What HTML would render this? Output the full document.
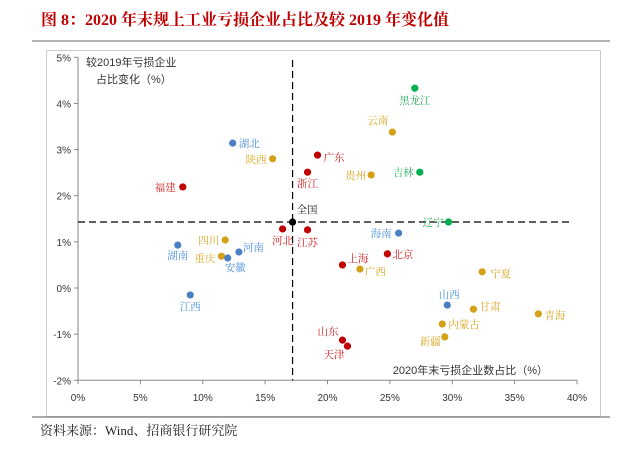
<!DOCTYPE html>
<html><head><meta charset="utf-8"><style>
body{margin:0;width:622px;height:451px;background:#fff;overflow:hidden;font-family:"Liberation Sans","Noto Sans CJK SC",sans-serif}
#title{position:absolute;left:41px;top:7px;font:bold 16px "Liberation Serif","Noto Serif CJK SC",serif;color:#c00000;white-space:nowrap}
#src{position:absolute;left:40px;top:420px;font:13px "Liberation Serif","Noto Serif CJK SC",serif;color:#222;white-space:nowrap}
svg{position:absolute;left:0;top:0}
</style></head><body>
<div id="title">图 8：2020 年末规上工业亏损企业占比及较 2019 年变化值</div>
<div id="src">资料来源：Wind、招商银行研究院</div>
<svg id="chart" width="622" height="451"></svg>
<script>
const names=["全国","湖北","陕西","福建","广东","浙江","黑龙江","云南","贵州","吉林","辽宁","海南","河北","江苏","四川","湖南","重庆","安徽","河南","江西","上海","广西","北京","山东","天津","宁夏","山西","甘肃","青海","内蒙古","新疆"];
const xVals=[17.2,12.4,15.6,8.4,19.2,18.4,27.0,25.2,23.5,27.4,29.7,25.7,16.4,18.4,11.8,8.0,11.5,12.0,12.9,9.0,21.2,22.6,24.8,21.2,21.6,32.4,29.6,31.7,36.9,29.2,29.4];
const yVals=[1.43,3.14,2.80,2.19,2.88,2.51,4.33,3.38,2.45,2.51,1.43,1.19,1.28,1.26,1.04,0.93,0.69,0.65,0.78,-0.15,0.50,0.41,0.74,-1.13,-1.26,0.35,-0.37,-0.46,-0.56,-0.78,-1.06];
const groups=["k","b","y","r","r","r","g","y","y","g","g","b","r","r","y","b","y","b","b","b","r","y","r","r","r","y","b","y","y","y","y"];
const xTicks=[0,5,10,15,20,25,30,35,40];
const yTicks=[-2,-1,0,1,2,3,4,5];
// label offsets [dx,dy,anchor]
const lab={"全国":[4,-9,"start"],"湖北":[6,4,"start"],"陕西":[-6,4,"end"],"福建":[-7,4,"end"],"广东":[6,6,"start"],"浙江":[0,15,"middle"],"黑龙江":[0,16,"middle"],"云南":[-4,-8,"end"],"贵州":[-5,4,"end"],"吉林":[-6,4,"end"],"辽宁":[-5,4,"end"],"海南":[-7,4,"end"],"河北":[0,15,"middle"],"江苏":[0,16,"middle"],"四川":[-6,4,"end"],"湖南":[0,14,"middle"],"重庆":[-6,6,"end"],"安徽":[-3,13,"start"],"河南":[4,-1,"start"],"江西":[0,15,"middle"],"上海":[5,-3,"start"],"广西":[5,6,"start"],"北京":[5,4,"start"],"山东":[-4,-5,"end"],"天津":[-3,12,"end"],"宁夏":[8,5,"start"],"山西":[2,-7,"middle"],"甘肃":[6,1,"start"],"青海":[6,5,"start"],"内蒙古":[6,4,"start"],"新疆":[-4,8,"end"]};
const col={k:"#000",b:"#4a7fc1",y:"#d4a017",r:"#c00000",g:"#00b050"};
const tcol={k:"#222",b:"#4a8fd9",y:"#d9a520",r:"#d42020",g:"#2cb060"};
const X=v=>78+v*12.475, Y=v=>288-v*46.14;
const s=document.getElementById('chart');
function el(t,a,txt){const e=document.createElementNS("http://www.w3.org/2000/svg",t);for(const k in a)e.setAttribute(k,a[k]);if(txt!=null)e.textContent=txt;s.appendChild(e);return e;}
let e;
e=el("line",{x1:32,y1:41,x2:610,y2:41,stroke:"#999","stroke-width":1.5});


e=el("rect",{x:46.5,y:50.5,width:554,height:366,fill:"none",stroke:"#ccc"});


e=el("line",{x1:32,y1:417,x2:610,y2:417,stroke:"#777","stroke-width":1.2});


e=el("line",{x1:78,y1:Y(5),x2:78,y2:Y(-2),stroke:"#888"});


e=el("line",{x1:78,y1:Y(-2),x2:X(40),y2:Y(-2),stroke:"#888"});


yTicks.forEach(t=>{
 el("line",{x1:74,y1:Y(t),x2:78,y2:Y(t),stroke:"#888"});
 e=el("text",{x:71,y:Y(t)+4,"text-anchor":"end","font-size":10,fill:"#333"},t+"%");
 
 
});
xTicks.forEach(t=>{
 el("line",{x1:X(t),y1:Y(-2),x2:X(t),y2:Y(-2)+4,stroke:"#888"});
 e=el("text",{x:X(t),y:401,"text-anchor":"middle","font-size":10,fill:"#333"},t+"%");
 
 
});
e=el("line",{x1:X(xVals[0]),y1:60,x2:X(xVals[0]),y2:Y(-2),stroke:"#000","stroke-dasharray":"7,4","stroke-width":1.2});


e=el("line",{x1:78,y1:Y(yVals[0]),x2:572,y2:Y(yVals[0]),stroke:"#000","stroke-dasharray":"7,4","stroke-width":1.2});


e=el("text",{x:86,y:66,"font-size":11,fill:"#333"},"较2019年亏损企业");


e=el("text",{x:96,y:83,"font-size":11,fill:"#333"},"占比变化（%）");


e=el("text",{x:548,y:374,"text-anchor":"end","font-size":11,fill:"#333"},"2020年末亏损企业数占比（%）");


names.forEach((n,i)=>{
 const cx=X(xVals[i]),cy=Y(yVals[i]);
 e=el("circle",{cx:cx,cy:cy,r:3.6,fill:col[groups[i]]});
 
 
 const o=lab[n]||[5,4,"start"];
 e=el("text",{x:cx+o[0],y:cy+o[1],"text-anchor":o[2],"font-size":10.5,fill:tcol[groups[i]],"font-family":"'Liberation Serif','Noto Serif CJK SC',serif"},n);
 
 
});
</script>
</body></html>
